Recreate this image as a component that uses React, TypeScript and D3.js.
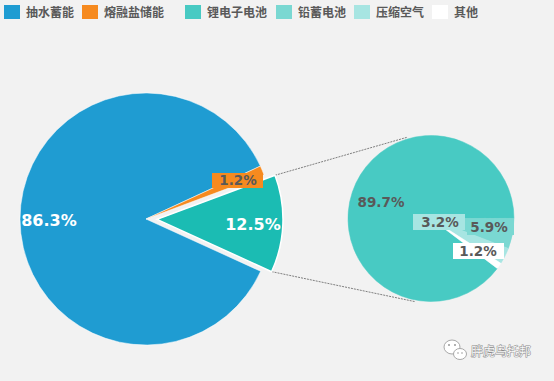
import React from "react";
import * as d3 from "d3";

const mainLabels = ["抽水蓄能", "熔融盐储能", "锂电子电池等"];
const mainValues = [86.3, 1.2, 12.5];
const mainColors = ["#1f9cd2", "#f68a1f", "#1bbcb3"];

const subLabels = ["锂电子电池", "铅蓄电池", "压缩空气", "其他"];
const subValues = [89.7, 5.9, 3.2, 1.2];
const subColors = ["#48cac3", "#7ad8d2", "#a7e5e2", "#ffffff"];

const legendLabels = ["抽水蓄能", "熔融盐储能", "锂电子电池", "铅蓄电池", "压缩空气", "其他"];
const legendColors = ["#1f9cd2", "#f68a1f", "#48cac3", "#7ad8d2", "#a7e5e2", "#ffffff"];
const legendX = [4, 82, 185, 276, 354, 432];

const W = 554;
const H = 381;
const deg = Math.PI / 180;
const numFont = "'DejaVu Sans', Verdana, sans-serif";
const cjkFont = "'Noto Sans CJK SC', 'Noto Sans', sans-serif";

export default function App() {
  // main pie
  const cx = 146, cy = 219, r = 126;
  const mainPie = d3.pie<number>().sort(null).startAngle(114.5 * deg).endAngle(474.5 * deg);
  const mainArcs = mainPie(mainValues);
  const arc = d3.arc<d3.PieArcDatum<number>>().innerRadius(0).outerRadius(r);
  const explode = 11;

  // sub pie
  const sx = 431, sy = 218.5, sr = 83;
  const subPie = d3.pie<number>().sort(null).startAngle(127 * deg).endAngle(487 * deg);
  const subArcs = subPie(subValues);
  const subArc = d3.arc<d3.PieArcDatum<number>>().innerRadius(0).outerRadius(sr);

  const teal = mainArcs[2];
  const mid = (teal.startAngle + teal.endAngle) / 2;
  const ox = explode * Math.sin(mid);
  const oy = -explode * Math.cos(mid);
  const corner = (a: number) => [cx + ox + r * Math.sin(a), cy + oy - r * Math.cos(a)];
  const subPt = (a: number) => [sx + sr * 1.02 * Math.sin(a * deg), sy - sr * 1.02 * Math.cos(a * deg)];
  const c1 = corner(teal.startAngle);
  const c2 = corner(teal.endAngle);
  const p1 = subPt(-16);
  const p2 = subPt(191);

  const mainLabelPos = [
    { x: 49, y: 220, color: "#fff", size: 16, box: null },
    { x: 238, y: 180, color: "#595959", size: 13.5, box: { x: 212, y: 173, w: 51, h: 15 } },
    { x: 253, y: 224, color: "#fff", size: 16, box: null },
  ];
  const subLabelPos = [
    { x: 381, y: 202, box: null },
    { x: 489, y: 227, box: { x: 467, y: 219, w: 47, h: 16 } },
    { x: 440, y: 222, box: { x: 413, y: 214, w: 52, h: 16 } },
    { x: 478, y: 251, box: { x: 453, y: 243, w: 51, h: 16 } },
  ];

  return (
    <svg
      width={W}
      height={H}
      style={{ position: "fixed", left: 0, top: 0, display: "block" }}
    >
      <rect x={0} y={0} width={W} height={H} fill="#f2f2f2" />

      {legendLabels.map((l, i) => (
        <g key={l}>
          <rect x={legendX[i]} y={5} width={16} height={14} fill={legendColors[i]} />
          <text
            x={legendX[i] + 22}
            y={17}
            fontFamily={cjkFont}
            fontWeight="bold"
            fontSize={12}
            fill="#595959"
          >
            {l}
          </text>
        </g>
      ))}

      <line x1={c1[0]} y1={c1[1]} x2={p1[0]} y2={p1[1]} stroke="#7f7f7f" strokeWidth={1} strokeDasharray="2,1" />
      <line x1={c2[0]} y1={c2[1]} x2={p2[0]} y2={p2[1]} stroke="#7f7f7f" strokeWidth={1} strokeDasharray="2,1" />

      <g>
        {mainArcs.map((a, i) => (
          <path
            key={i}
            d={arc(a) || ""}
            transform={i === 2 ? `translate(${cx + ox},${cy + oy})` : `translate(${cx},${cy})`}
            fill={mainColors[i]}
            stroke="#ffffff"
            strokeWidth={i === 2 ? 1.5 : 0.5}
            strokeLinejoin="miter"
          />
        ))}
      </g>

      <g transform={`translate(${sx},${sy})`}>
        {subArcs.map((a, i) => (
          <path key={i} d={subArc(a) || ""} fill={subColors[i]} stroke={subColors[i]} strokeWidth={0.5} />
        ))}
      </g>

      {mainLabelPos.map((p, i) => (
        <g key={"ml" + i}>
          {p.box && <rect x={p.box.x} y={p.box.y} width={p.box.w} height={p.box.h} fill={mainColors[i]} />}
          <text
            x={p.x}
            y={p.y}
            textAnchor="middle"
            dominantBaseline="central"
            fontFamily={numFont}
            fontWeight="bold"
            fontSize={p.size}
            fill={p.color}
          >
            {mainValues[i].toFixed(1)}%
          </text>
        </g>
      ))}

      {subLabelPos.map((p, i) => (
        <g key={"sl" + i}>
          {p.box && <rect x={p.box.x} y={p.box.y} width={p.box.w} height={p.box.h} fill={subColors[i]} />}
          <text
            x={p.x}
            y={p.y}
            textAnchor="middle"
            dominantBaseline="central"
            fontFamily={numFont}
            fontWeight="bold"
            fontSize={13.5}
            fill="#595959"
          >
            {subValues[i].toFixed(1)}%
          </text>
        </g>
      ))}

      <g>
        <ellipse cx={452} cy={347} rx={8} ry={7} fill="#fff" stroke="#a8a8a8" strokeWidth={1} />
        <ellipse cx={460} cy={354} rx={6.5} ry={5.5} fill="#fff" stroke="#a8a8a8" strokeWidth={1} />
        <circle cx={449} cy={345} r={1} fill="#999" />
        <circle cx={455} cy={345} r={1} fill="#999" />
        <circle cx={458} cy={353} r={0.8} fill="#999" />
        <circle cx={462} cy={353} r={0.8} fill="#999" />
        <text
          x={471}
          y={356}
          fontFamily={cjkFont}
          fontSize={12}
          fill="#fafafa"
          stroke="#8a8a8a"
          strokeWidth={1}
          style={{ paintOrder: "stroke" }}
        >
          胖虎乌托邦
        </text>
      </g>
    </svg>
  );
}
